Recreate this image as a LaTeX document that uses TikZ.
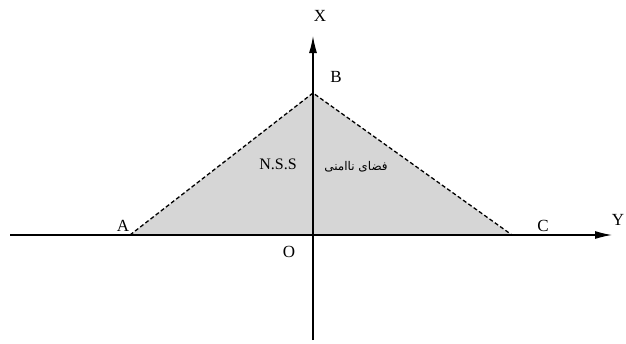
\documentclass[tikz,border=0pt]{standalone}
\usepackage{fontspec}
\setmainfont{Liberation Serif}
\newfontfamily\arabicfont[Script=Arabic]{DejaVu Sans}
\TeXXeTstate=1
\usetikzlibrary{arrows.meta}
\begin{document}
\begin{tikzpicture}[x=1pt,y=-1pt,
  axis/.style={line width=1.2pt,-{Latex[length=17pt,width=8pt]}},
  edge/.style={line width=1.3pt,dash pattern=on 4pt off 2.5pt},
  lbl/.style={font=\fontsize{17}{17}\selectfont,inner sep=0pt}]
\useasboundingbox (0,0) rectangle (626,343);
\coordinate (A) at (130,235);
\coordinate (B) at (313,93);
\coordinate (C) at (512,235);
\coordinate (L) at (10,235);
\coordinate (R) at (612,235);
\coordinate (D) at (313,340);
\coordinate (T) at (313,36);
\fill[gray!32] (A) -- (B) -- (C) -- cycle;
\draw[axis] (L) -- (R);
\draw[axis] (D) -- (T);
\draw[edge] (A) -- (B) -- (C);
\node[lbl] (xl) at (320,16) {X};
\node[lbl] (bl) at (336,77) {B};
\node[lbl] (al) at (123,226) {A};
\node[lbl] (cl) at (543,226) {C};
\node[lbl] (yl) at (618,220) {Y};
\node[lbl] (ol) at (289,252) {O};
\node[lbl,font=\fontsize{16}{16}\selectfont] (nss) at (278,164) {N.S.S};
\node[inner sep=0pt,font=\arabicfont\fontsize{12}{12}\selectfont] (fa) at (356,167) {\beginR فضای ناامنی\endR};
\end{tikzpicture}
\end{document}
